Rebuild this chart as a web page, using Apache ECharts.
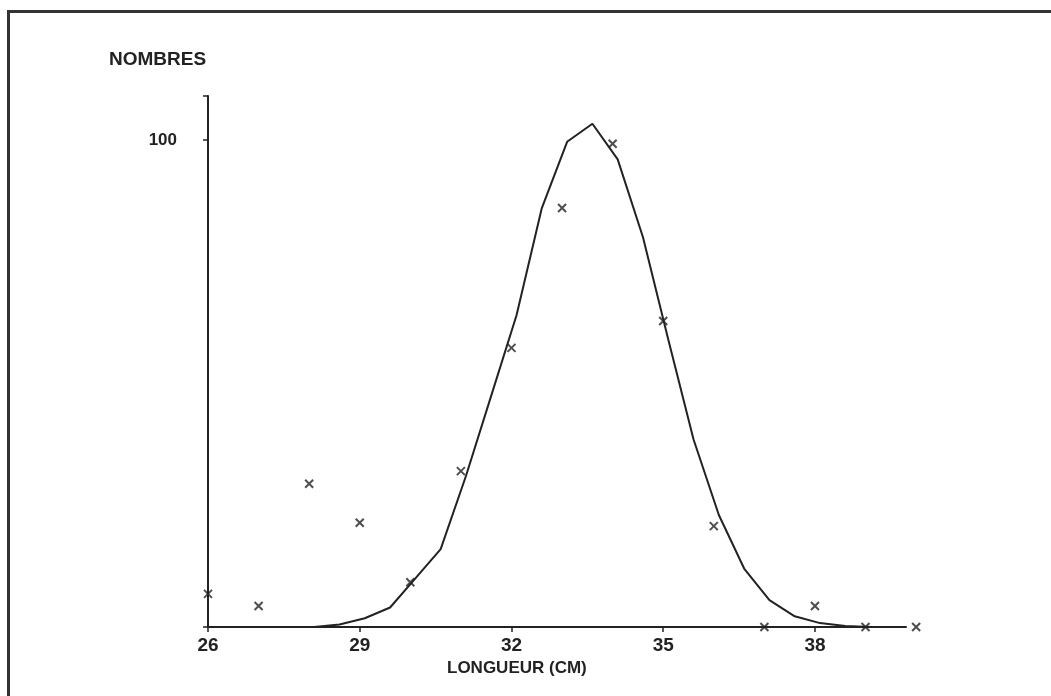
<!DOCTYPE html>
<html>
<head>
<meta charset="utf-8">
<script src="https://cdn.jsdelivr.net/npm/echarts@6/dist/echarts.min.js"></script>
<style>
  html, body { margin: 0; padding: 0; background: #fff; }
  #frame {
    position: absolute; left: 7px; top: 10px; width: 1044px; height: 686px;
    border-top: 3px solid #333; border-left: 3px solid #333;
  }
  #chart { position: absolute; left: 0; top: 0; width: 1051px; height: 696px; }
</style>
</head>
<body>
<div id="frame"></div>
<div id="chart"></div>
<script>
// observed counts per length class (cm)
const lengths = [26, 27, 28, 29, 30, 31, 32, 33, 34, 35, 36, 37, 38, 39, 40]
const counts = [6.8, 4.3, 29.4, 21.4, 9.2, 32, 57.3, 86, 99.2, 62.8, 20.7, 0, 4.3, 0, 0]

// fitted curve
const curveX = [28.1, 28.6, 29.1, 29.6, 30.1, 30.6, 31.1, 31.6, 32.1, 32.6, 33.1, 33.6,
  34.1, 34.6, 35.1, 35.6, 36.1, 36.6, 37.1, 37.6, 38.1, 38.6, 39.1]
const curveY = [0, 0.5, 1.8, 4.0, 10, 16, 31, 47.5, 64, 86, 99.6, 103.3,
  96, 80, 59, 38.5, 23, 12, 5.5, 2.2, 0.8, 0.2, 0]

const yTicks = [100]

const ink = '#222'
const font = 'Liberation Sans'

const chart = echarts.init(document.getElementById('chart'))

chart.setOption({
  animation: false,
  backgroundColor: 'transparent',
  title: [
    {
      text: 'NOMBRES', left: 104, top: 45,
      textStyle: { fontFamily: font, fontSize: 19, fontWeight: 'bold', color: ink }
    },
    {
      text: 'LONGUEUR (CM)', left: 442, top: 655,
      textStyle: { fontFamily: font, fontSize: 17, fontWeight: 'bold', color: ink }
    }
  ],
  grid: { left: 208, right: 145, top: 96, bottom: 69 },
  xAxis: {
    type: 'value',
    min: 26,
    max: 39.8,
    interval: 3,
    axisLine: { lineStyle: { color: ink, width: 2 } },
    axisTick: { show: true, length: 5, lineStyle: { color: ink, width: 1.5 } },
    splitLine: { show: false },
    axisLabel: {
      fontFamily: font, fontSize: 19, fontWeight: 'bold', color: ink, margin: 9,
      showMaxLabel: false
    }
  },
  yAxis: {
    type: 'value',
    min: 0,
    max: 109,
    interval: 100,
    axisLine: { show: true, lineStyle: { color: ink, width: 2 } },
    axisTick: { show: true, length: 5, lineStyle: { color: ink, width: 1.5 } },
    splitLine: { show: false },
    axisLabel: {
      fontFamily: font, fontSize: 17, fontWeight: 'bold', color: ink, margin: 31,
      formatter: v => yTicks.includes(v) ? String(v) : ''
    }
  },
  series: [
    {
      type: 'line',
      data: curveX.map((x, i) => [x, curveY[i]]),
      showSymbol: false,
      smooth: false,
      lineStyle: { color: ink, width: 2 }
    },
    {
      type: 'scatter',
      clip: false,
      data: lengths.map((x, i) => [x, counts[i]]),
      symbol: 'path://M0,0L10,10M10,0L0,10',
      symbolSize: 8,
      itemStyle: { color: 'none', borderColor: ink, borderWidth: 2 }
    }
  ]
})
</script>
</body>
</html>
